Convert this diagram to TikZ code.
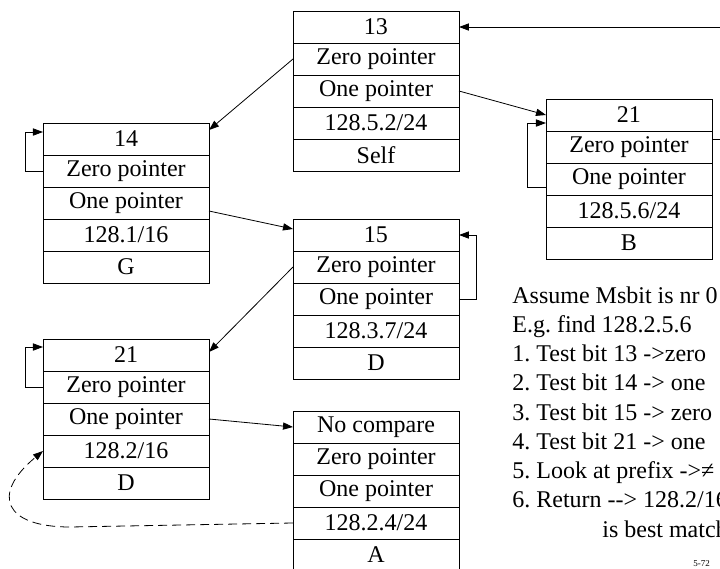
\documentclass[tikz,border=0pt]{standalone}
\usepackage{fontspec}
\setmainfont{Liberation Serif}
\usetikzlibrary{arrows.meta,positioning}
\frenchspacing

\tikzset{
  cell/.style={draw,minimum width=83pt,minimum height=16pt,inner sep=0pt,outer sep=0pt},
  link/.style={-{Triangle[length=5pt,width=3.6pt]}},
}
% one trie entry: name, left, top, then the five rows
\newcommand\triebox[8]{%
  \node[cell] (#1-bit) at (#2+83,#3+16) {#4};
  \node[cell,below=0pt of #1-bit] (#1-zero) {#5};
  \node[cell,below=0pt of #1-zero] (#1-one) {#6};
  \node[cell,below=0pt of #1-one] (#1-pfx) {#7};
  \node[cell,below=0pt of #1-pfx] (#1-nh) {#8};
}

\begin{document}
\begin{tikzpicture}[x=0.5pt,y=-0.5pt,font=\fontsize{12}{14}\selectfont]
\useasboundingbox (0,0) rectangle (720,569);
\triebox{b13}{293}{11}{13}{Zero pointer}{One pointer}{128.5.2/24}{Self}
\triebox{r21}{546}{99}{21}{Zero pointer}{One pointer}{128.5.6/24}{B}
\triebox{b14}{43}{123}{14}{Zero pointer}{One pointer}{128.1/16}{G}
\triebox{b15}{293}{219}{15}{Zero pointer}{One pointer}{128.3.7/24}{D}
\triebox{l21}{43}{339}{21}{Zero pointer}{One pointer}{128.2/16}{D}
\triebox{bA}{293}{411}{No compare}{Zero pointer}{One pointer}{128.2.4/24}{A}
\coordinate (inR) at (720,27);
\coordinate (outR) at (720,139);
% pointers
\draw[link] (inR) -- (b13-bit.east);
\draw (r21-zero.east |- outR) -- (outR);
\draw[link] (b13-one.east) -- (r21-bit.west);
\draw[link] ([yshift=-4pt]r21-one.west) -- ++(-19,0) |- ([yshift=-4pt]r21-bit.west);
\draw[link] (b13-zero.west) -- ([yshift=4.5pt]b14-bit.east);
\draw[link] (b14-zero.west) -- ++(-18,0) |- ([yshift=3.5pt]b14-bit.west);
\draw[link] ([yshift=-4pt]b14-one.east) -- ([yshift=3pt]b15-bit.west);
\draw[link] (b15-one.east) -- ++(17,0) |- (b15-bit.east);
\draw[link] (b15-zero.west) -- ([yshift=1.5pt]l21-bit.east);
\draw[link] (l21-zero.west) -- ++(-18,0) |- ([yshift=4pt]l21-bit.west);
\draw[link] (l21-one.east) -- (bA-bit.west);
\draw[link,dash pattern=on 4.5pt off 2.5pt] (bA-pfx.west) -- (70,527)
  .. controls (5,527) and (-10,495) .. (l21-pfx.west);
% lookup steps
\foreach \txt [count=\i from 0] in {Assume Msbit is nr 0, E.g. find 128.2.5.6,
  1. Test bit 13 ->zero, 2. Test bit 14 -> one, 3. Test bit 15 -> zero,
  4. Test bit 21 -> one, 5. Look at prefix ->≠, 6. Return -{}-{}> 128.2/16,
  {\hspace*{45pt}is best match}}
  \node[anchor=base west,inner sep=0pt] (note\i) at (512,303+29.25*\i) {\txt};
\node[anchor=base west,inner sep=0pt,font=\fontsize{4.5}{5}\selectfont] (pgno) at (693,566) {5-72};
\end{tikzpicture}
\end{document}
